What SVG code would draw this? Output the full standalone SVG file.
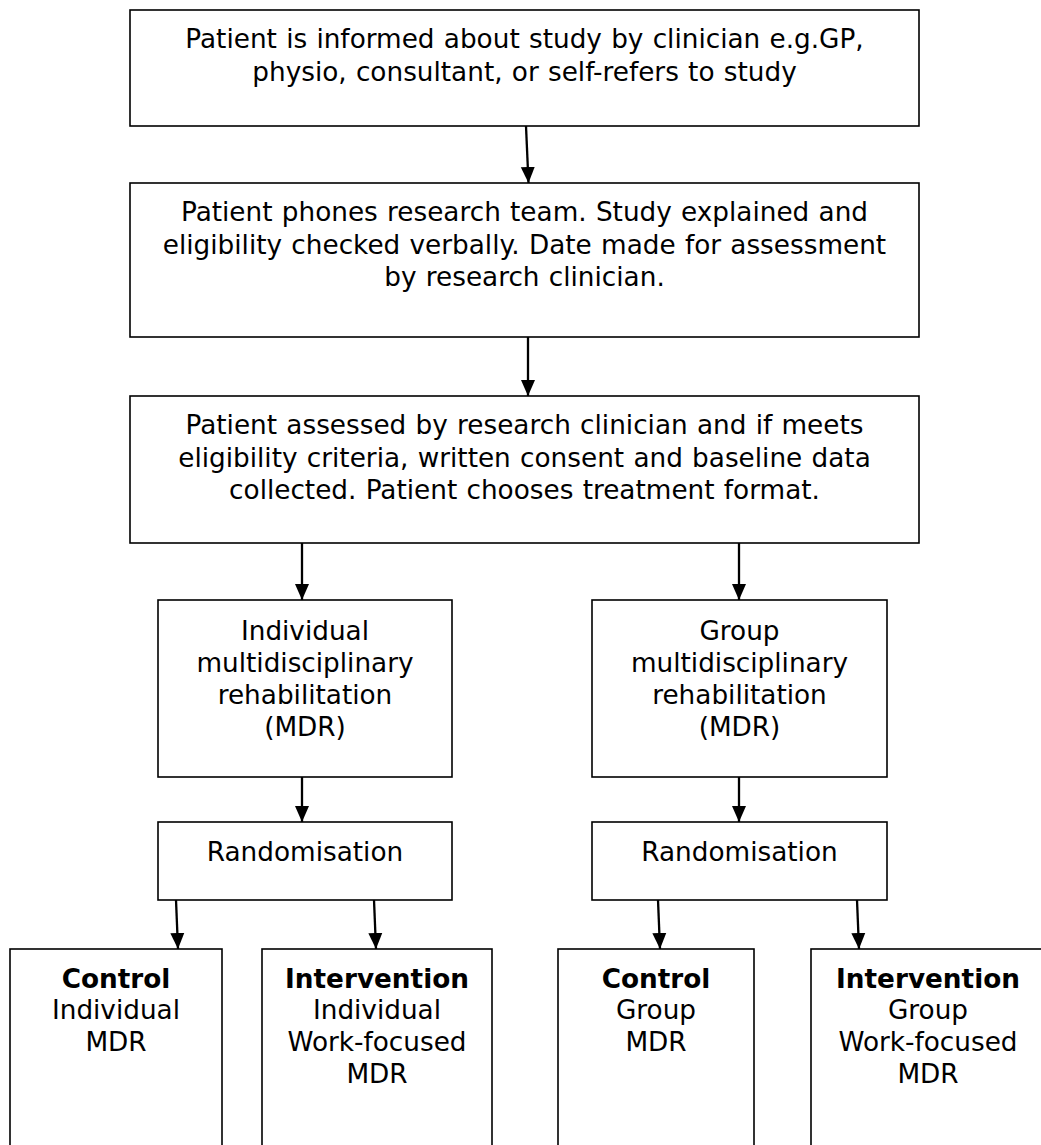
<svg xmlns="http://www.w3.org/2000/svg" width="1041" height="1145" viewBox="0 0 1041 1145">
<style>
.box{fill:#fff;stroke:#000;stroke-width:1.6}
.t{font-family:"DejaVu Sans",Verdana,sans-serif;font-size:26.3px;word-spacing:0.9px;fill:#000;text-anchor:middle}
.b{font-weight:bold}
.c{stroke:#000;stroke-width:2.3;fill:none;marker-end:url(#ah)}
</style>
<defs>
<marker id="ah" markerUnits="userSpaceOnUse" markerWidth="18" markerHeight="18" viewBox="0 0 18 18" refX="16" refY="9" orient="auto">
<path d="M0,2 L16,9 L0,16 Z" fill="#000"/>
</marker>
</defs>
<rect width="1041" height="1145" fill="#fff"/>
<g id="n1"><rect class="box" x="130" y="10" width="789" height="116"/>
<text class="t" x="524.5" y="48">Patient is informed about study by clinician e.g.GP,</text>
<text class="t" x="524.5" y="80.5">physio, consultant, or self-refers to study</text></g>
<g id="n2"><rect class="box" x="130" y="183" width="789" height="154"/>
<text class="t" x="524.5" y="221">Patient phones research team. Study explained and</text>
<text class="t" x="524.5" y="253.5">eligibility checked verbally. Date made for assessment</text>
<text class="t" x="524.5" y="286">by research clinician.</text></g>
<g id="n3"><rect class="box" x="130" y="396" width="789" height="147"/>
<text class="t" x="524.5" y="434">Patient assessed by research clinician and if meets</text>
<text class="t" x="524.5" y="466.5">eligibility criteria, written consent and baseline data</text>
<text class="t" x="524.5" y="499">collected. Patient chooses treatment format.</text></g>
<g id="n4"><rect class="box" x="158" y="600" width="294" height="177"/>
<text class="t" x="305" y="639.5">Individual</text>
<text class="t" x="305" y="671.5">multidisciplinary</text>
<text class="t" x="305" y="703.5">rehabilitation</text>
<text class="t" x="305" y="735.5">(MDR)</text></g>
<g id="n5"><rect class="box" x="592" y="600" width="295" height="177"/>
<text class="t" x="739.5" y="639.5">Group</text>
<text class="t" x="739.5" y="671.5">multidisciplinary</text>
<text class="t" x="739.5" y="703.5">rehabilitation</text>
<text class="t" x="739.5" y="735.5">(MDR)</text></g>
<g id="n6"><rect class="box" x="158" y="822" width="294" height="78"/>
<text class="t" x="305" y="861">Randomisation</text></g>
<g id="n7"><rect class="box" x="592" y="822" width="295" height="78"/>
<text class="t" x="739.5" y="861">Randomisation</text></g>
<g id="n8"><rect class="box" x="10" y="949" width="212" height="210"/>
<text class="t b" x="116" y="987.5">Control</text>
<text class="t" x="116" y="1019">Individual</text>
<text class="t" x="116" y="1051">MDR</text></g>
<g id="n9"><rect class="box" x="262" y="949" width="230" height="210"/>
<text class="t b" x="377" y="987.5">Intervention</text>
<text class="t" x="377" y="1019">Individual</text>
<text class="t" x="377" y="1051">Work-focused</text>
<text class="t" x="377" y="1083">MDR</text></g>
<g id="n10"><rect class="box" x="558" y="949" width="196" height="210"/>
<text class="t b" x="656" y="987.5">Control</text>
<text class="t" x="656" y="1019">Group</text>
<text class="t" x="656" y="1051">MDR</text></g>
<g id="n11"><rect class="box" x="811" y="949" width="236" height="210"/>
<text class="t b" x="928" y="987.5">Intervention</text>
<text class="t" x="928" y="1019">Group</text>
<text class="t" x="928" y="1051">Work-focused</text>
<text class="t" x="928" y="1083">MDR</text></g>
<g id="connectors">
<line class="c" x1="526" y1="126" x2="528.5" y2="183"/>
<line class="c" x1="528" y1="337" x2="528" y2="396"/>
<line class="c" x1="302" y1="543" x2="302" y2="600"/>
<line class="c" x1="739" y1="543" x2="739" y2="600"/>
<line class="c" x1="302" y1="777" x2="302" y2="822"/>
<line class="c" x1="739" y1="777" x2="739" y2="822"/>
<line class="c" x1="176" y1="900" x2="178" y2="949"/>
<line class="c" x1="374" y1="900" x2="376" y2="949"/>
<line class="c" x1="658" y1="900" x2="660" y2="949"/>
<line class="c" x1="857" y1="900" x2="859" y2="949"/>
</g>
</svg>
